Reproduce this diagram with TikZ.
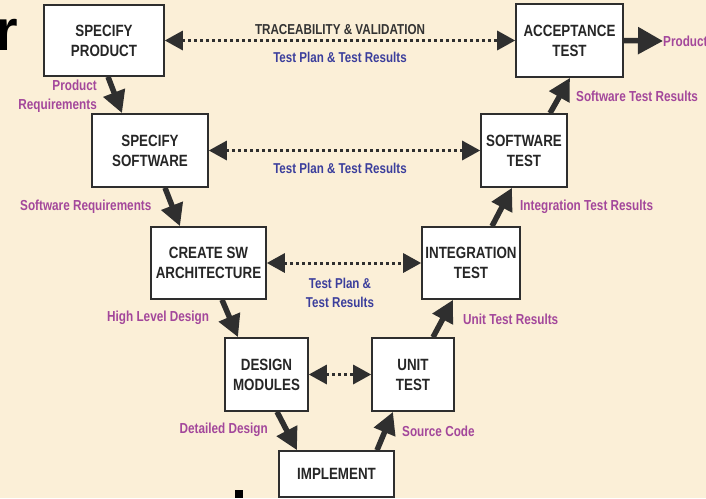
\documentclass[tikz,border=0pt]{standalone}
\usepackage{fontspec}
\setmainfont{Liberation Sans}
\newfontfamily\boxf[FakeStretch=0.82]{Liberation Sans}
\newfontfamily\labf[FakeStretch=0.81]{Liberation Sans}
\usetikzlibrary{arrows.meta,calc}
\definecolor{bg}{HTML}{FBEFD7}
\definecolor{boxline}{HTML}{2E2E2E}
\definecolor{arr}{HTML}{2F2F2F}
\definecolor{boxtext}{HTML}{262626}
\definecolor{mag}{HTML}{A3479B}
\definecolor{blu}{HTML}{3B3E9C}
\definecolor{gtxt}{HTML}{333333}
\tikzset{
  box/.style={draw=boxline, line width=1.6pt, fill=white, align=center, inner sep=0pt,
    text=boxtext, font=\boxf\bfseries\fontsize{16.3}{20}\selectfont},
  lab/.style={inner sep=0pt, text=mag, font=\labf\bfseries\fontsize{14.5}{19}\selectfont},
  blab/.style={inner sep=0pt, text=blu, align=center, font=\labf\bfseries\fontsize{14.3}{19}\selectfont},
  tlab/.style={inner sep=0pt, text=gtxt, font=\labf\bfseries\fontsize{14.4}{19}\selectfont},
  flow/.style={draw=arr, line width=5.5pt, -{Triangle[length=22pt,width=22pt]}},
  trace/.style={draw=arr, line width=3pt, dash pattern=on 3pt off 3pt,
    {Triangle[length=18pt,width=19pt]}-{Triangle[length=18pt,width=19pt]}}
}
\begin{document}
\begin{tikzpicture}[x=1pt,y=-1pt]
\path[use as bounding box] (0,0) rectangle (706,498);
\fill[bg] (0,0) rectangle (706,498);
\begin{scope}
\clip (0,0) rectangle (706,498);
% slide fragments
\node[inner sep=0pt, anchor=base east, font=\bfseries\fontsize{58}{58}\selectfont] (rr) at (18,50) {r};
\fill (235,490) rectangle (243,498);
% boxes
\node[box, minimum width=120pt, minimum height=71pt] (sp) at (104,40.5) {SPECIFY\\PRODUCT};
\node[box, minimum width=107pt, minimum height=73pt] (at) at (569.5,40.5) {ACCEPTANCE\\TEST};
\node[box, minimum width=116pt, minimum height=73pt] (ss) at (150,150.5) {SPECIFY\\SOFTWARE};
\node[box, minimum width=86pt, minimum height=73pt] (st) at (524,150.5) {SOFTWARE\\TEST};
\node[box, minimum width=115pt, minimum height=72pt] (ca) at (208.5,263) {CREATE SW\\ARCHITECTURE};
\node[box, minimum width=98pt, minimum height=72pt] (it) at (471,263) {INTEGRATION\\TEST};
\node[box, minimum width=83pt, minimum height=73pt] (dm) at (266.5,374.5) {DESIGN\\MODULES};
\node[box, minimum width=82pt, minimum height=73pt] (ut) at (413,374.5) {UNIT\\TEST};
\node[box, minimum width=115pt, minimum height=46pt] (im) at (336.5,474) {IMPLEMENT};
% labels
\node[lab, anchor=east, align=right] (l1) at (97,96.5) {Product\\Requirements};
\node[lab, anchor=west] (l2) at (20,207) {Software Requirements};
\node[lab, anchor=west] (l3) at (107,318) {High Level Design};
\node[lab, anchor=east] (l4) at (268,430) {Detailed Design};
\node[lab, anchor=west] (l5) at (402,431) {Source Code};
\node[lab, anchor=west] (l6) at (463,319) {Unit Test Results};
\node[lab, anchor=west] (l7) at (520,207) {Integration Test Results};
\node[lab, anchor=west] (l8) at (576,96) {Software Test Results};
\node[lab, anchor=west] (prod) at (663,41) {Product};
\node[tlab] (tv) at (340,30) {TRACEABILITY \& VALIDATION};
\node[blab] (b1) at (340,57) {Test Plan \& Test Results};
\node[blab] (b2) at (340,168) {Test Plan \& Test Results};
\node[blab] (b3) at (340,292.5) {Test Plan \&\\Test Results};
% flow arrows
\draw[flow] ([xshift=4pt]sp.south) -- ([xshift=-28pt]ss.north);
\draw[flow] ([xshift=15pt]ss.south) -- ([xshift=-28.5pt]ca.north);
\draw[flow] ([xshift=13.5pt]ca.south) -- ([xshift=-28.5pt]dm.north);
\draw[flow] ([xshift=10.5pt]dm.south) -- ([xshift=-39.5pt]im.north);
\draw[flow] ([xshift=40.5pt]im.north) -- ([xshift=-20pt]ut.south);
\draw[flow] ([xshift=20pt]ut.north) -- ([xshift=-18pt]it.south);
\draw[flow] ([xshift=21pt]it.north) -- ([xshift=-12pt]st.south);
\draw[flow] ([xshift=26pt]st.north) -- ([xshift=0.5pt]at.south);
\draw[flow, -{Triangle[length=25pt,width=26pt]}] (at.east) -- (prod.west);
% traceability arrows
\draw[trace] (sp.east) -- (at.west);
\draw[trace] (ss.east) -- (st.west);
\draw[trace] (ca.east) -- (it.west);
\draw[trace] (dm.east) -- (ut.west);
\end{scope}
\end{tikzpicture}
\end{document}
